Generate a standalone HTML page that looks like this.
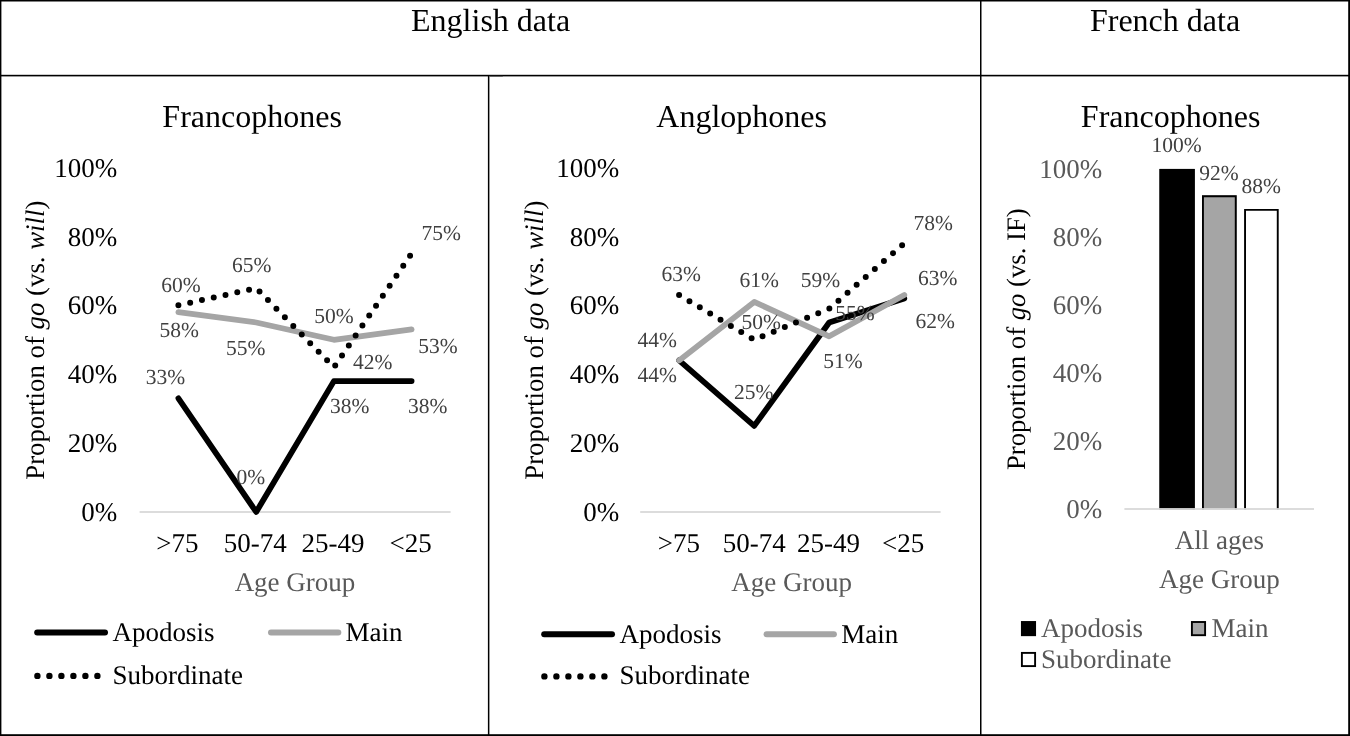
<!DOCTYPE html><html><head><meta charset="utf-8"><style>html,body{margin:0;padding:0;background:#fff;overflow:hidden}svg{display:block}text{font-family:"Liberation Serif",serif;text-rendering:geometricPrecision}svg{filter:grayscale(1)}</style></head><body>
<svg width="1350" height="736" viewBox="0 0 1350 736">
<rect x="0" y="0" width="1350" height="736" fill="#fff"/>
<g fill="#000">
<rect x="0" y="0" width="1350" height="1.5"/>
<rect x="0" y="0" width="1.4" height="736"/>
<rect x="1348.2" y="0" width="1.8" height="736"/>
<rect x="0" y="734.2" width="1350" height="1.8"/>
<rect x="0" y="74.8" width="1350" height="1.6"/>
<rect x="487.9" y="75" width="1.5" height="661"/>
<rect x="980" y="0" width="1.5" height="736"/>
<rect x="489.3" y="75.9" width="13.5" height="1.1" fill="#666"/>
</g>
<text x="490.6" y="30.8" font-size="32" text-anchor="middle">English data</text>
<text x="1165" y="30.8" font-size="32" text-anchor="middle">French data</text>
<text x="252.1" y="127.2" font-size="32" text-anchor="middle">Francophones</text>
<text x="117.3" y="176.8" font-size="27" text-anchor="end">100%</text>
<text x="117.3" y="245.6" font-size="27" text-anchor="end">80%</text>
<text x="117.3" y="314.4" font-size="27" text-anchor="end">60%</text>
<text x="117.3" y="383.3" font-size="27" text-anchor="end">40%</text>
<text x="117.3" y="452.1" font-size="27" text-anchor="end">20%</text>
<text x="117.3" y="520.9" font-size="27" text-anchor="end">0%</text>
<rect x="139.6" y="511.1" width="311.0" height="1.8" fill="#d9d9d9"/>
<text x="177.4" y="552.2" font-size="27" text-anchor="middle">&gt;75</text>
<text x="255.2" y="552.2" font-size="27" text-anchor="middle">50-74</text>
<text x="332.9" y="552.2" font-size="27" text-anchor="middle">25-49</text>
<text x="410.6" y="552.2" font-size="27" text-anchor="middle">&lt;25</text>
<text x="295.0" y="590.9" font-size="27" text-anchor="middle" fill="#595959">Age Group</text>
<text transform="translate(44.3,340.2) rotate(-90)" font-size="26.8" text-anchor="middle">Proportion of <tspan font-style="italic">go</tspan> (vs. <tspan font-style="italic">will</tspan>)</text>
<polyline points="178.4,398.3 256.2,512.0 333.9,381.1 411.6,381.1" fill="none" stroke="#000" stroke-width="5.75" stroke-linejoin="round" stroke-linecap="round"/>
<polyline points="178.4,312.2 256.2,322.5 333.9,339.8 411.6,329.4" fill="none" stroke="#a5a5a5" stroke-width="5.75" stroke-linejoin="round" stroke-linecap="round"/>
<polyline points="178.4,305.3 256.2,288.1 333.9,367.3 411.6,253.6" fill="none" stroke="#000" stroke-width="6" stroke-dasharray="0 12.06" stroke-linejoin="round" stroke-linecap="round"/>
<text x="161.3" y="292" font-size="21.5" fill="#404040">60%</text>
<text x="231.9" y="271.6" font-size="21.5" fill="#404040">65%</text>
<text x="421.5" y="240.4" font-size="21.5" fill="#404040">75%</text>
<text x="314.2" y="323.2" font-size="21.5" fill="#404040">50%</text>
<text x="159.4" y="336.8" font-size="21.5" fill="#404040">58%</text>
<text x="225.9" y="354.5" font-size="21.5" fill="#404040">55%</text>
<text x="418.3" y="353.1" font-size="21.5" fill="#404040">53%</text>
<text x="353" y="369.4" font-size="21.5" fill="#404040">42%</text>
<text x="145.8" y="384.4" font-size="21.5" fill="#404040">33%</text>
<text x="330" y="412.9" font-size="21.5" fill="#404040">38%</text>
<text x="408" y="412.9" font-size="21.5" fill="#404040">38%</text>
<text x="236.4" y="484.1" font-size="21.5" fill="#404040">0%</text>
<line x1="37.2" y1="632.5" x2="105" y2="632.5" stroke="#000" stroke-width="6" stroke-linecap="round"/>
<text x="112.5" y="641.0" font-size="27">Apodosis</text>
<line x1="271" y1="632.5" x2="338.3" y2="632.5" stroke="#a5a5a5" stroke-width="6" stroke-linecap="round"/>
<text x="345.6" y="641.0" font-size="27">Main</text>
<line x1="37.4" y1="675.9" x2="99" y2="675.9" stroke="#000" stroke-width="6.4" stroke-dasharray="0 12" stroke-linecap="round"/>
<text x="112.5" y="684.3" font-size="27">Subordinate</text>
<text x="741.7" y="127.2" font-size="32" text-anchor="middle">Anglophones</text>
<text x="619.3" y="176.8" font-size="27" text-anchor="end">100%</text>
<text x="619.3" y="245.6" font-size="27" text-anchor="end">80%</text>
<text x="619.3" y="314.4" font-size="27" text-anchor="end">60%</text>
<text x="619.3" y="383.3" font-size="27" text-anchor="end">40%</text>
<text x="619.3" y="452.1" font-size="27" text-anchor="end">20%</text>
<text x="619.3" y="520.9" font-size="27" text-anchor="end">0%</text>
<rect x="640.2" y="511.1" width="300.4" height="1.8" fill="#d9d9d9"/>
<text x="678.8" y="552.2" font-size="27" text-anchor="middle">&gt;75</text>
<text x="754.2" y="552.2" font-size="27" text-anchor="middle">50-74</text>
<text x="828.6" y="552.2" font-size="27" text-anchor="middle">25-49</text>
<text x="903.2" y="552.2" font-size="27" text-anchor="middle">&lt;25</text>
<text x="791.7" y="590.9" font-size="27" text-anchor="middle" fill="#595959">Age Group</text>
<text transform="translate(543.0,340.2) rotate(-90)" font-size="26.8" text-anchor="middle">Proportion of <tspan font-style="italic">go</tspan> (vs. <tspan font-style="italic">will</tspan>)</text>
<polyline points="679.1,360.4 754.2,425.9 829.2,322.5 904.3,298.4" fill="none" stroke="#000" stroke-width="5.75" stroke-linejoin="round" stroke-linecap="round"/>
<polyline points="679.1,360.4 754.2,301.9 829.2,336.3 904.3,295.0" fill="none" stroke="#a5a5a5" stroke-width="5.75" stroke-linejoin="round" stroke-linecap="round"/>
<polyline points="679.1,295.0 754.2,339.8 829.2,308.7 904.3,243.3" fill="none" stroke="#000" stroke-width="6" stroke-dasharray="0 12.06" stroke-linejoin="round" stroke-linecap="round"/>
<text x="661.5" y="281.3" font-size="21.5" fill="#404040">63%</text>
<text x="739.5" y="286.7" font-size="21.5" fill="#404040">61%</text>
<text x="800.8" y="286.7" font-size="21.5" fill="#404040">59%</text>
<text x="913.6" y="229.9" font-size="21.5" fill="#404040">78%</text>
<text x="918" y="284.6" font-size="21.5" fill="#404040">63%</text>
<text x="741.6" y="329.2" font-size="21.5" fill="#404040">50%</text>
<text x="835.2" y="319.6" font-size="21.5" fill="#404040">55%</text>
<text x="915.6" y="328" font-size="21.5" fill="#404040">62%</text>
<text x="637.5" y="346.5" font-size="21.5" fill="#404040">44%</text>
<text x="637.5" y="381.8" font-size="21.5" fill="#404040">44%</text>
<text x="823.2" y="367.5" font-size="21.5" fill="#404040">51%</text>
<text x="734.1" y="398.9" font-size="21.5" fill="#404040">25%</text>
<line x1="544.2" y1="634.2" x2="612" y2="634.2" stroke="#000" stroke-width="6" stroke-linecap="round"/>
<text x="619.5" y="642.7" font-size="27">Apodosis</text>
<line x1="766.6" y1="634.2" x2="833.9000000000001" y2="634.2" stroke="#a5a5a5" stroke-width="6" stroke-linecap="round"/>
<text x="841.2" y="642.7" font-size="27">Main</text>
<line x1="544.4" y1="676.4" x2="606" y2="676.4" stroke="#000" stroke-width="6.4" stroke-dasharray="0 12" stroke-linecap="round"/>
<text x="619.5" y="684.3" font-size="27">Subordinate</text>
<text x="1170.6" y="126.9" font-size="32" text-anchor="middle">Francophones</text>
<text x="1102.3" y="177.6" font-size="27" text-anchor="end" fill="#595959">100%</text>
<text x="1102.3" y="245.6" font-size="27" text-anchor="end" fill="#595959">80%</text>
<text x="1102.3" y="313.6" font-size="27" text-anchor="end" fill="#595959">60%</text>
<text x="1102.3" y="381.6" font-size="27" text-anchor="end" fill="#595959">40%</text>
<text x="1102.3" y="449.6" font-size="27" text-anchor="end" fill="#595959">20%</text>
<text x="1102.3" y="517.6" font-size="27" text-anchor="end" fill="#595959">0%</text>
<rect x="1159.5" y="168.9" width="35.20" height="340.6" fill="#000"/>
<path d="M1160.45,509.5 V169.85 H1193.75 V509.5" fill="none" stroke="#000" stroke-width="1.9"/>
<rect x="1202.0" y="195.3" width="34.70" height="314.2" fill="#a5a5a5"/>
<path d="M1202.95,509.5 V196.25 H1235.75 V509.5" fill="none" stroke="#000" stroke-width="1.9"/>
<rect x="1244.1" y="208.9" width="34.60" height="300.6" fill="#fff"/>
<path d="M1245.05,509.5 V209.85 H1277.75 V509.5" fill="none" stroke="#000" stroke-width="1.9"/>
<rect x="1124.4" y="508.1" width="189.6" height="1.8" fill="#d9d9d9"/>
<text x="1151.4" y="152.3" font-size="21.5" fill="#404040">100%</text>
<text x="1199.2" y="179.5" font-size="21.5" fill="#404040">92%</text>
<text x="1241.6" y="193" font-size="21.5" fill="#404040">88%</text>
<text x="1219.3" y="548.9" font-size="27" text-anchor="middle" fill="#595959">All ages</text>
<text x="1219.3" y="587.8" font-size="27" text-anchor="middle" fill="#595959">Age Group</text>
<text transform="translate(1025.3,339.2) rotate(-90)" font-size="26.7" text-anchor="middle">Proportion of <tspan font-style="italic">go</tspan> (vs. IF)</text>
<rect x="1021.9" y="622" width="13.2" height="13.2" fill="#000" stroke="#000" stroke-width="1.9"/>
<text x="1041" y="637.2" font-size="27" fill="#595959">Apodosis</text>
<rect x="1191.9" y="622" width="13.2" height="13.2" fill="#a5a5a5" stroke="#000" stroke-width="1.9"/>
<text x="1211.4" y="637.2" font-size="27" fill="#595959">Main</text>
<rect x="1021.9" y="652.9" width="13.2" height="13.2" fill="#fff" stroke="#000" stroke-width="1.9"/>
<text x="1041" y="667.8" font-size="27" fill="#595959">Subordinate</text>
</svg></body></html>
